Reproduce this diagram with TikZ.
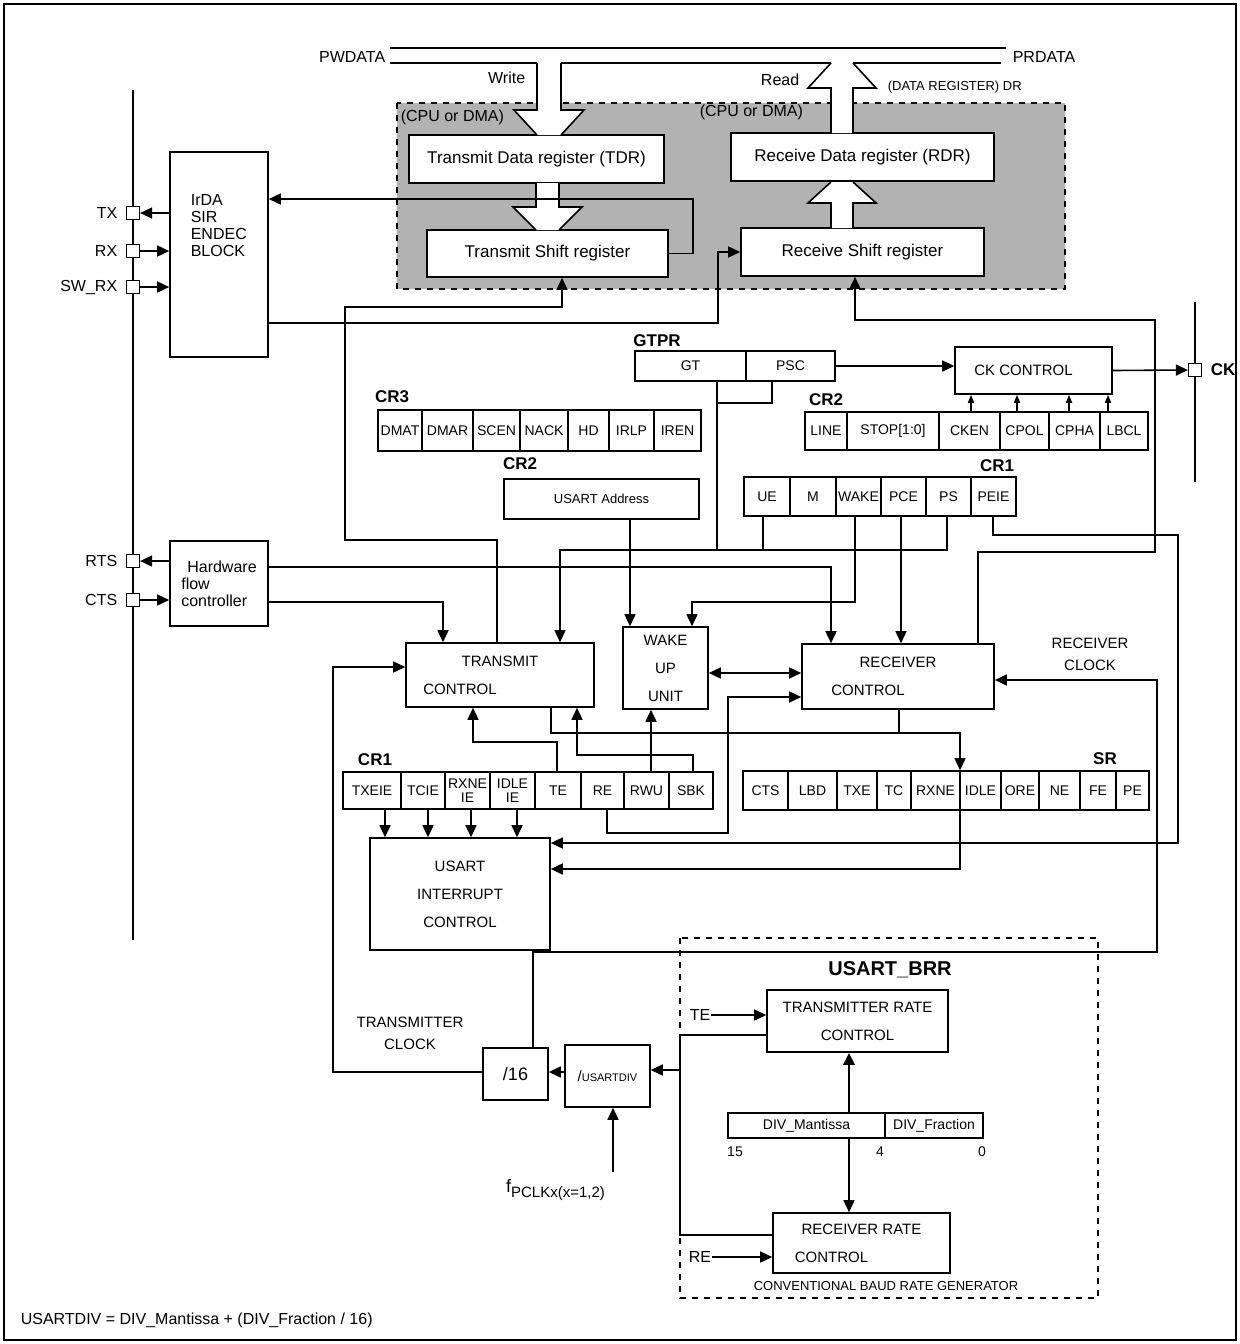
\documentclass[tikz,border=0pt]{standalone}
\usepackage{fontspec}
\setmainfont{Liberation Sans}
\usetikzlibrary{arrows.meta}

% box from corner to corner, coordinates in pixels of the sheet
\newcommand\blk[7][]{\node[box,#1,minimum width={(#5-#3)*0.5pt},minimum height={(#6-#4)*0.5pt}] (#2) at ({(#3+#5)/2},{(#4+#6)/2}) {#7};}
% register: prefix, top, bottom, list of left/right/label
\newcommand\reg[4]{\foreach \a/\b/\t [count=\i] in {#4}
  \node[cell,minimum width={(\b-\a)*0.5pt},minimum height={(#3-#2)*0.5pt}] (#1-\i) at ({(\a+\b)/2},{(#2+#3)/2}) {\t};}
% hollow wide arrow: stems x1 x2, start, flare, tip
\newcommand\wide[5]{%
  \fill[white] (#1,#3) -- (#1,#4) -- ({#1-23},#4) -- (#1,#5) -- (#2,#5) -- ({#2+23},#4) -- (#2,#4) -- (#2,#3) -- cycle;
  \draw (#1,#3) -- (#1,#4) -- ({#1-23},#4) -- (#1,#5);
  \draw (#2,#3) -- (#2,#4) -- ({#2+23},#4) -- (#2,#5);}

\begin{document}
\begin{tikzpicture}[x=0.5pt,y=-0.5pt,line width=0.8pt,>={Triangle[length=6pt,width=5.5pt]},
    box/.style={draw,fill=white,inner sep=0pt,align=center,font=\fontsize{7.5}{14}\selectfont},
    cell/.style={box,font=\fontsize{7}{6.8}\selectfont},
    pin/.style={draw,fill=white,minimum size=6.5pt,inner sep=0pt,line width=0.6pt},
    lbl/.style={inner sep=0pt,font=\fontsize{8}{9}\selectfont},
    reglbl/.style={inner sep=0pt,font=\fontsize{8.5}{9}\selectfont\bfseries},
    tiny/.style={->,>={Triangle[length=4pt,width=3pt]}}]
  \useasboundingbox (0,0) rectangle (1240,1344);
  \draw (4,4) rectangle (1236,1340);

  % data path
  \draw[dashed,fill=gray!60] (397,103) rectangle (1065,289);
  \draw (390,48) -- (1006,48);
  \draw (390,63) -- (537,63) (561,63) -- (831,63) (853,63) -- (1001,63);
  \node[lbl,anchor=east] (pw) at (386,57) {PWDATA};
  \node[lbl,anchor=west] (pr) at (1012,57) {PRDATA};
  \node[lbl,anchor=east] (wr) at (526,78) {Write};
  \node[lbl,anchor=east] (rd) at (800,80) {Read};
  \node[lbl,anchor=west,font=\fontsize{6.5}{7}\selectfont] (dr) at (887,87) {(DATA REGISTER) DR};
  \node[lbl,anchor=west] (cpu1) at (400,117) {(CPU or DMA)};
  \node[lbl,anchor=west] (cpu2) at (699,112) {(CPU or DMA)};

  \blk[font=\fontsize{8.5}{10}\selectfont]{tdr}{409}{135}{664}{183}{Transmit Data register (TDR)}
  \blk[font=\fontsize{8.5}{10}\selectfont]{tsr}{427}{230}{668}{277}{Transmit Shift register}
  \blk[font=\fontsize{8.5}{10}\selectfont]{rdr}{731}{133}{994}{181}{Receive Data register (RDR)}
  \blk[font=\fontsize{8.5}{10}\selectfont]{rsr}{741}{228}{984}{276}{Receive Shift register}
  \wide{537}{561}{63}{110}{135}
  \wide{536}{559}{183}{207}{230}
  \wide{831}{853}{228}{203}{182}
  \wide{831}{853}{133}{88}{63}

  % pins
  \draw[line width=1.4pt] (133,90) -- (133,940);
  \draw[line width=1.2pt] (1195,302) -- (1195,482);
  \foreach \n/\t/\y in {ptx/TX/213,prx/RX/251,psw/SW\_RX/287,prts/RTS/561,pcts/CTS/600}{
    \node[pin] (\n) at (133,\y) {};
    \node[lbl,anchor=east] at (118,\y) {\t};}
  \node[pin] (pck) at (1195,370) {};
  \node[lbl,anchor=west,font=\fontsize{8.5}{9}\selectfont\bfseries] (cklbl) at (1210,370) {CK};

  \blk{irda}{170}{152}{268}{357}{}
  \node[lbl,anchor=north west,align=left,font=\fontsize{8}{8.5}\selectfont] at (190,194) {IrDA\\SIR\\ENDEC\\BLOCK};
  \blk[font=\fontsize{8}{8.5}\selectfont,align=left]{hfc}{170}{541}{268}{626}{\hspace*{3pt}Hardware\\flow\\controller}

  % registers
  \node[reglbl] at (657,341) {GTPR};
  \reg{gtpr}{351}{381}{635/746/GT,746/835/PSC}
  \blk{ck}{955}{347}{1112}{394}{CK CONTROL\hspace*{10pt}}
  \node[reglbl] at (826,400) {CR2};
  \reg{cr2r}{412}{450}{805/847/LINE,847/939/STOP[1:0],939/1000/CKEN,1000/1049/CPOL,1049/1100/CPHA,1100/1148/LBCL}
  \node[reglbl] at (392,397) {CR3};
  \reg{cr3}{410}{451}{378/422/DMAT,422/473/DMAR,473/520/SCEN,520/568/NACK,568/609/HD,609/654/IRLP,654/701/IREN}
  \node[reglbl] at (520,464) {CR2};
  \blk[font=\fontsize{6.5}{7}\selectfont]{addr}{504}{479}{699}{519}{USART Address}
  \node[reglbl] at (997,466) {CR1};
  \reg{cr1r}{477}{516}{744/790/UE,790/836/M,836/881/WAKE,881/926/PCE,926/971/PS,971/1016/PEIE}

  \blk{tc}{406}{643}{594}{707}{TRANSMIT\\CONTROL\hspace*{40pt}}
  \blk{wu}{623}{627}{708}{709}{WAKE\\UP\\UNIT}
  \blk{rc}{802}{644}{994}{709}{RECEIVER\\CONTROL\hspace*{30pt}}
  \node[lbl,align=center,font=\fontsize{7.5}{11}\selectfont] at (1090,654) {RECEIVER\\CLOCK};

  \node[reglbl] at (375,760) {CR1};
  \reg{cr1l}{772}{809}{343/401/TXEIE,401/445/TCIE,445/490/RXNE\\IE,490/535/IDLE\\IE,535/581/TE,581/624/RE,624/669/RWU,669/713/SBK}
  \node[reglbl] at (1105,759) {SR};
  \reg{sr}{771}{810}{743/788/CTS,788/837/LBD,837/877/TXE,877/911/TC,911/960/RXNE,960/1001/IDLE,1001/1039/ORE,1039/1080/NE,1080/1116/FE,1116/1149/PE}
  \blk{ic}{370}{838}{550}{950}{USART\\INTERRUPT\\CONTROL}

  % baud rate
  \draw[dashed] (680,938) rectangle (1098,1298);
  \node[reglbl,font=\fontsize{10}{11}\selectfont\bfseries] at (890,970) {USART\_BRR};
  \blk{trc}{767}{990}{948}{1052}{TRANSMITTER RATE\\CONTROL}
  \blk{rrc}{773}{1213}{950}{1273}{RECEIVER RATE\\CONTROL\hspace*{30pt}}
  \reg{div}{1113}{1138}{728/885/DIV\_Mantissa,885/983/DIV\_Fraction}
  \foreach \t/\x in {15/735,4/880,0/982} \node[lbl,font=\fontsize{7}{8}\selectfont] at (\x,1152) {\t};
  \node[lbl,font=\fontsize{6.5}{7}\selectfont] at (886,1286) {CONVENTIONAL BAUD RATE GENERATOR};
  \node[lbl] (lte) at (700,1015) {TE};
  \node[lbl] (lre) at (700,1257) {RE};
  \blk[font=\fontsize{9}{10}\selectfont]{d16}{483}{1048}{548}{1100}{/16}
  \blk{udiv}{565}{1045}{650}{1107}{/\fontsize{5.5}{6}\selectfont USARTDIV}
  \node[lbl,font=\fontsize{9}{10}\selectfont] (fclk) at (556,1190) {f\textsubscript{\fontsize{7.5}{8}\selectfont PCLKx(x=1,2)}};
  \coordinate (fin) at (613,1172);
  \coordinate (tap) at (680,1070);
  \node[lbl,align=center,font=\fontsize{7.5}{11}\selectfont] at (410,1033) {TRANSMITTER\\CLOCK};
  \node[lbl,anchor=west] (eq) at (20,1320) {USARTDIV = DIV\_Mantissa + (DIV\_Fraction / 16)};

  % connectors
  \draw[->] (tsr.east) -- ++(24,0) |- (irda.east |- 0,199);
  \draw[->] (irda.east |- 0,323) -| ([xshift=-11pt]rsr.west) -- (rsr.west);
  \draw[->] (irda.west |- ptx) -- (ptx.east);
  \draw[->] (prx.east) -- (irda.west |- prx);
  \draw[->] (psw.east) -- (irda.west |- psw);
  \draw[->] (hfc.west |- prts) -- (prts.east);
  \draw[->] (pcts.east) -- (hfc.west |- pcts);
  \draw[->] (tc.north -| 497,0) -- (497,540) -- (345,540) -- (345,307) -- (562,307) -- (tsr.south -| 562,0);
  \draw[->] (rc.north -| 978,0) -- (978,552) -- (1155,552) -- (1155,320) -- (855,320) -- (rsr.south -| 855,0);
  \draw[->] (gtpr-2.east) -- (ck.west |- gtpr-2.east);
  \draw[->] (ck.east) -- (pck.west);
  \foreach \i/\x in {3/971,4/1017,5/1069,6/1108} \draw[tiny] (cr2r-\i.north -| \x,0) -- (ck.south -| \x,0);
  \draw (gtpr-1.south -| 717,0) -- (717,550);
  \draw (gtpr-2.south -| 772,0) -- (772,403) -- (717,403);
  \draw[->] (cr1r-5.south -| 947,0) -- (947,550) -- (560,550) -- (tc.north -| 560,0);
  \draw (cr1r-1.south -| 763,0) -- (763,550);
  \draw[->] (cr1r-3.south -| 855,0) -- (855,602) -- (692,602) -- (wu.north -| 692,0);
  \draw[->] (addr.south -| 630,0) -- (wu.north -| 630,0);
  \draw[->] (cr1r-4.south -| 901,0) -- (rc.north -| 901,0);
  \draw[->] (hfc.east |- 0,567) -- (831,567) -- (rc.north -| 831,0);
  \draw[->] (hfc.east |- 0,602) -- (443,602) -- (tc.north -| 443,0);
  \draw[<->] (wu.east |- 0,673) -- (rc.west |- 0,673);
  \draw[->] (cr1r-6.south -| 993,0) -- (993,535) -- (1178,535) -- (1178,843) -- (ic.east |- 0,843);
  \draw[->] (d16.north -| 533,0) -- (533,952) -- (1157,952) -- (1157,680) -- (rc.east |- 0,680);
  \draw[->] (d16.west |- 0,1072) -- (333,1072) -- (333,667) -- (tc.west |- 0,667);
  \draw[->] (tc.south -| 551,0) -- (551,733) -- (960,733) -- (sr-6.north -| 960,0);
  \draw (rc.south -| 899,0) -- (899,733);
  \draw[->] (sr-6.south -| 960,0) -- (960,869) -- (ic.east |- 0,869);
  \draw[->] (cr1l-5.north -| 557,0) -- (557,742) -- (473,742) -- (tc.south -| 473,0);
  \draw[->] (cr1l-8.north -| 693,0) -- (693,755) -- (577,755) -- (tc.south -| 577,0);
  \draw[->] (cr1l-7.north -| 651,0) -- (wu.south -| 651,0);
  \draw[->] (cr1l-6.south -| 607,0) -- (607,833) -- (728,833) -- (728,697) -- (rc.west |- 0,697);
  \foreach \i/\x in {1/385,2/428,3/471,4/517} \draw[->] (cr1l-\i.south -| \x,0) -- (ic.north -| \x,0);
  \draw[->,line width=1.4pt] (div-1.north -| 849,0) -- (trc.south -| 849,0);
  \draw[->] (div-1.south -| 849,0) -- (rrc.north -| 849,0);
  \draw[->] (lte) -- (trc.west |- lte);
  \draw[->] (lre) -- (rrc.west |- lre);
  \draw (trc.west |- 0,1035) -- (680,1035) -- (680,1235) -- (rrc.west |- 0,1235);
  \draw[->] (tap) -- (udiv.east |- tap);
  \draw[->] (udiv.west |- 0,1072) -- (d16.east |- 0,1072);
  \draw[->] (fin) -- (udiv.south -| fin);
\end{tikzpicture}
\end{document}
